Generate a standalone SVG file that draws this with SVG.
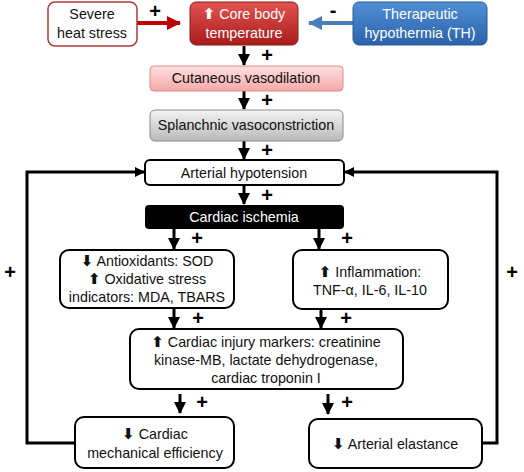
<svg xmlns="http://www.w3.org/2000/svg" width="524" height="472" viewBox="0 0 524 472">
<style>
.t{font-family:"Liberation Sans",Arial,sans-serif;font-size:14.3px;fill:#111;text-anchor:middle}
.w{fill:#fff}
.box{fill:#fff;stroke:#000;stroke-width:2}
.pl{font-family:"Liberation Sans",Arial,sans-serif;font-size:20px;font-weight:bold;fill:#000;text-anchor:middle}
.c{fill:none;stroke:#000;stroke-width:3}
.ar{font-family:"DejaVu Sans",sans-serif;font-size:15px;font-weight:bold}
</style>
<defs>
<linearGradient id="gRed" x1="0" y1="0" x2="0" y2="1"><stop offset="0" stop-color="#e25450"/><stop offset="1" stop-color="#a81c1c"/></linearGradient>
<linearGradient id="gBlue" x1="0" y1="0" x2="0" y2="1"><stop offset="0" stop-color="#4f8fd6"/><stop offset="1" stop-color="#2c62a8"/></linearGradient>
<linearGradient id="gPink" x1="0" y1="0" x2="0" y2="1"><stop offset="0" stop-color="#fde0e0"/><stop offset="1" stop-color="#f5a9a9"/></linearGradient>
<linearGradient id="gGrey" x1="0" y1="0" x2="0" y2="1"><stop offset="0" stop-color="#f4f4f4"/><stop offset="1" stop-color="#b9b9b9"/></linearGradient>
<marker id="mk" markerUnits="userSpaceOnUse" markerWidth="12" markerHeight="12" refX="11" refY="6" orient="auto"><path d="M0,0 L12,6 L0,12 z" fill="#000"/></marker>
<marker id="mks" markerUnits="userSpaceOnUse" markerWidth="10" markerHeight="10" refX="9" refY="5" orient="auto"><path d="M0,0 L10,5 L0,10 z" fill="#000"/></marker>
<marker id="mkr" markerUnits="userSpaceOnUse" markerWidth="14" markerHeight="14" refX="13" refY="7" orient="auto"><path d="M0,0 L14,7 L0,14 z" fill="#c00000"/></marker>
<marker id="mkb" markerUnits="userSpaceOnUse" markerWidth="14" markerHeight="14" refX="13" refY="7" orient="auto"><path d="M0,0 L14,7 L0,14 z" fill="#4a7ebb"/></marker>
</defs>

<g id="connectors">
<line x1="137" y1="23" x2="180" y2="23" stroke="#c00000" stroke-width="4" marker-end="url(#mkr)"/>
<line x1="353" y1="23" x2="309" y2="23" stroke="#4a7ebb" stroke-width="4" marker-end="url(#mkb)"/>
<line class="c" x1="244" y1="46" x2="244" y2="65" marker-end="url(#mk)"/>
<line class="c" x1="244" y1="91" x2="244" y2="109" marker-end="url(#mk)"/>
<line class="c" x1="244" y1="141" x2="244" y2="159" marker-end="url(#mk)"/>
<line class="c" x1="244" y1="185" x2="244" y2="204" marker-end="url(#mk)"/>
<line class="c" x1="174" y1="229" x2="174" y2="249" marker-end="url(#mk)"/>
<line class="c" x1="319" y1="229" x2="319" y2="249" marker-end="url(#mk)"/>
<line class="c" x1="174" y1="308" x2="174" y2="328" marker-end="url(#mk)"/>
<line class="c" x1="321" y1="309" x2="321" y2="328" marker-end="url(#mk)"/>
<line class="c" x1="180" y1="394" x2="180" y2="413" marker-end="url(#mk)"/>
<line class="c" x1="328" y1="394" x2="328" y2="414" marker-end="url(#mk)"/>
<path class="c" d="M75,443 H27 V172 H144" marker-end="url(#mks)"/>
<path class="c" d="M482,443 H497 V172 H345" marker-end="url(#mks)"/>
<text class="pl" x="155" y="18">+</text>
<text class="pl" x="333" y="17">-</text>
<text class="pl" x="267" y="62">+</text>
<text class="pl" x="267" y="107">+</text>
<text class="pl" x="267" y="157">+</text>
<text class="pl" x="267" y="202">+</text>
<text class="pl" x="197" y="245">+</text>
<text class="pl" x="347" y="245">+</text>
<text class="pl" x="198" y="325">+</text>
<text class="pl" x="346" y="325">+</text>
<text class="pl" x="202" y="409">+</text>
<text class="pl" x="347" y="409">+</text>
<text class="pl" x="10" y="279">+</text>
<text class="pl" x="512" y="279">+</text>
</g>

<g id="heat">
<rect x="48" y="2" width="89" height="44" rx="7" fill="#fff" stroke="#b03a3a" stroke-width="1.5"/>
<text class="t" x="92" y="19">Severe</text>
<text class="t" x="92" y="38">heat stress</text>
</g>
<g id="core">
<rect x="190" y="2" width="108" height="43" rx="6" fill="url(#gRed)" stroke="#8c1a1a" stroke-width="1"/>
<text class="t w" x="244" y="19"><tspan class="ar">⬆</tspan> Core body</text>
<text class="t w" x="244" y="38">temperature</text>
</g>
<g id="th">
<rect x="353" y="2" width="134" height="43" rx="6" fill="url(#gBlue)" stroke="#2a5a99" stroke-width="1"/>
<text class="t w" x="420" y="19">Therapeutic</text>
<text class="t w" x="420" y="38">hypothermia (TH)</text>
</g>
<g id="cutaneous">
<rect x="150" y="66" width="193" height="25" rx="4" fill="url(#gPink)" stroke="#e08a8a" stroke-width="1"/>
<text class="t" x="246" y="83">Cutaneous vasodilation</text>
</g>
<g id="splanchnic">
<rect x="150" y="110" width="193" height="31" rx="5" fill="url(#gGrey)" stroke="#8a8a8a" stroke-width="1"/>
<text class="t" x="246" y="130">Splanchnic vasoconstriction</text>
</g>
<g id="hypotension">
<rect class="box" x="145" y="160" width="199" height="25" rx="5"/>
<text class="t" x="244" y="178">Arterial hypotension</text>
</g>
<g id="ischemia">
<rect x="145" y="205" width="199" height="24" rx="4" fill="#000"/>
<text class="t w" x="244" y="222">Cardiac ischemia</text>
</g>
<g id="oxidative">
<rect class="box" x="60" y="250" width="174" height="58" rx="9"/>
<text class="t" x="147" y="266"><tspan class="ar">⬇</tspan> Antioxidants: SOD</text>
<text class="t" x="147" y="284"><tspan class="ar">⬆</tspan> Oxidative stress</text>
<text class="t" x="147" y="302">indicators: MDA, TBARS</text>
</g>
<g id="inflammation">
<rect class="box" x="293" y="250" width="155" height="59" rx="9"/>
<text class="t" x="370" y="277"><tspan class="ar">⬆</tspan> Inflammation:</text>
<text class="t" x="370" y="295">TNF-α, IL-6, IL-10</text>
</g>
<g id="injury">
<rect class="box" x="130" y="329" width="273" height="60" rx="9"/>
<text class="t" x="266" y="347"><tspan class="ar">⬆</tspan> Cardiac injury markers: creatinine</text>
<text class="t" x="266" y="365">kinase-MB, lactate dehydrogenase,</text>
<text class="t" x="266" y="383">cardiac troponin I</text>
</g>
<g id="efficiency">
<rect class="box" x="75" y="417" width="159" height="51" rx="9"/>
<text class="t" x="155" y="439"><tspan class="ar">⬇</tspan> Cardiac</text>
<text class="t" x="155" y="458">mechanical efficiency</text>
</g>
<g id="elastance">
<rect class="box" x="309" y="419" width="173" height="49" rx="9"/>
<text class="t" x="395" y="449"><tspan class="ar">⬇</tspan> Arterial elastance</text>
</g>
</svg>
